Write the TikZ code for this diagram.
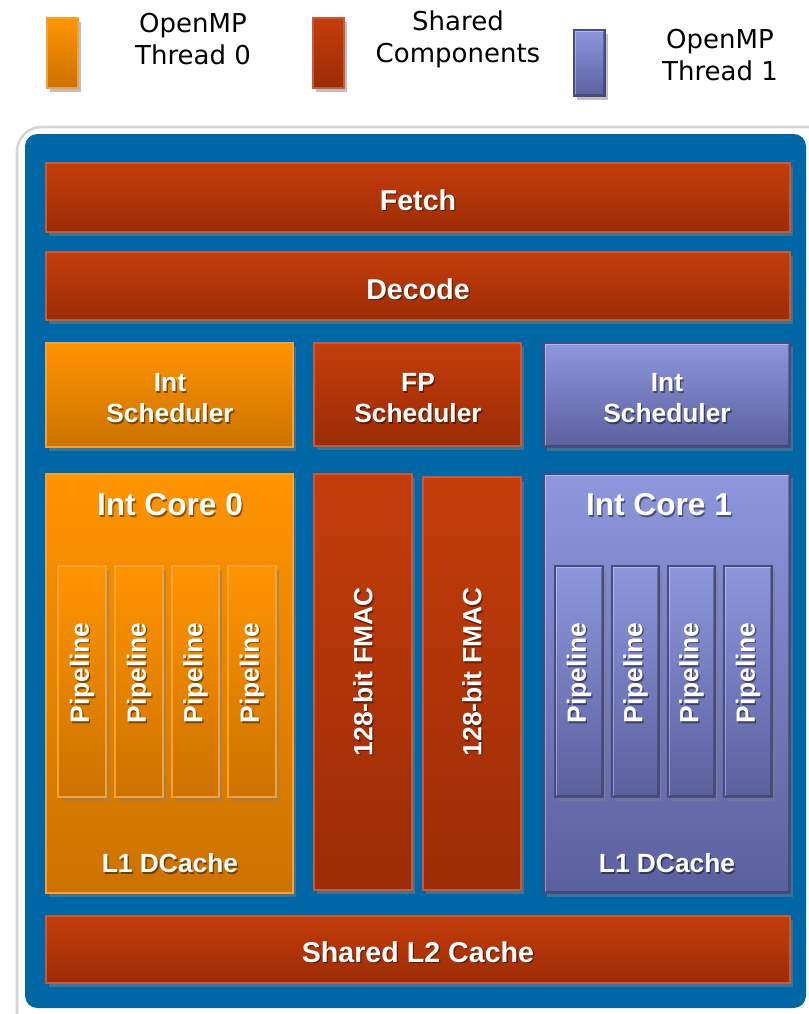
\documentclass[tikz,border=0pt]{standalone}
\usepackage{fontspec}
\setmainfont{Liberation Sans}
\newfontfamily\legendfont{DejaVu Sans}
\usetikzlibrary{shadows,calc}

\definecolor{panelblue}{HTML}{0067A7}
\definecolor{orgtop}{HTML}{FF9400}
\definecolor{orgbot}{HTML}{CC7200}
\definecolor{orgedge}{HTML}{F5A233}
\definecolor{redtop}{HTML}{C43D0B}
\definecolor{redbot}{HTML}{9C2C05}
\definecolor{rededge}{HTML}{C9593A}
\definecolor{purtop}{HTML}{8E97DD}
\definecolor{purbot}{HTML}{5B609D}
\definecolor{puredge}{HTML}{464B84}

\tikzset{
  x=0.02cm, y=-0.02cm,
  unit/.style={rectangle, inner sep=0pt, outer sep=0pt, line width=0.8pt,
    drop shadow={shadow xshift=1.5pt, shadow yshift=-2pt, opacity=0.5}},
  shared/.style={unit, draw=rededge, top color=redtop, bottom color=redbot},
  thread0/.style={unit, draw=orgedge, top color=orgtop, bottom color=orgbot},
  thread1/.style={unit, draw=puredge, top color=purtop, bottom color=purbot,
    path picture={
      \draw[white, opacity=0.35, line width=2.5pt]
        (path picture bounding box.south west) -- (path picture bounding box.north west)
        -- (path picture bounding box.north east);
      \draw[black, opacity=0.25, line width=2.5pt]
        (path picture bounding box.north east) -- (path picture bounding box.south east)
        -- (path picture bounding box.south west);}},
  lbl/.style={text=white, font=\bfseries\fontsize{15}{17.6}\selectfont,
    align=center, inner sep=0pt},
  biglbl/.style={font=\bfseries\fontsize{16.3}{19}\selectfont},
  titlelbl/.style={font=\bfseries\fontsize{18}{21}\selectfont},
  legendtxt/.style={font=\legendfont\fontsize{14.8}{18.2}\selectfont,
    align=center, inner sep=0pt, text=black},
}

% block from corner (x1,y1) to (x2,y2), in pixel units
\newcommand\blk[6]{%
  \pgfmathsetmacro\bw{((#5)-(#3))*0.02}%
  \pgfmathsetmacro\bh{((#6)-(#4))*0.02}%
  \node[#2, minimum width=\bw cm, minimum height=\bh cm] (#1)
    at ({((#3)+(#5))/2},{((#4)+(#6))/2}) {};}

% white label with a dark offset shadow
\newcommand\shtext[4]{%
  \node[lbl,#3,text=black,text opacity=0.45] at ($(#2)+(1.3,1.7)$) {#4};
  \node[lbl,#3] (#1) at (#2) {#4};}

\begin{document}
\begin{tikzpicture}
\useasboundingbox (0,0) rectangle (808,1014);

% ---- legend ----
\blk{lg0}{thread0}{47}{18}{78}{88}
\blk{lgs}{shared}{313}{18}{344}{88}
\blk{lg1}{thread1}{574}{30}{605}{96}
\node[legendtxt] (lt0) at (193,39) {OpenMP\\Thread 0};
\node[legendtxt] (lts) at (458,39) {Shared\\Components};
\node[legendtxt] (lt1) at (720,55) {OpenMP\\Thread 1};

% ---- module frame ----
\draw[draw=black!16, line width=1.5pt, fill=white, rounded corners=14]
  (17,127) rectangle (840,1040);
\fill[panelblue, rounded corners=7] (25,134) rectangle (806,1008);

% ---- front end ----
\blk{fetch}{shared}{46}{163}{790}{232}
\shtext{fetchL}{418,200}{biglbl}{Fetch}
\blk{decode}{shared}{46}{252}{790}{320}
\shtext{decodeL}{418,289}{biglbl}{Decode}

% ---- schedulers ----
\blk{sch0}{thread0}{46}{343}{293}{447}
\shtext{sch0L}{170,398}{}{Int\\Scheduler}
\blk{fpsch}{shared}{314}{343}{521}{446}
\shtext{fpschL}{418,398}{}{FP\\Scheduler}
\blk{sch1}{thread1}{544}{343}{790}{447}
\shtext{sch1L}{667,398}{}{Int\\Scheduler}

% ---- integer core 0 ----
\blk{core0}{thread0}{46}{474}{293}{893}
\shtext{core0T}{170,505}{titlelbl}{Int Core 0}
\shtext{core0C}{170,863}{}{L1 DCache}
\blk{p00}{thread0}{58}{566}{106}{797}
\blk{p01}{thread0}{115}{566}{163}{797}
\blk{p02}{thread0}{172}{566}{219}{797}
\blk{p03}{thread0}{228}{566}{276}{797}
\foreach \p in {p00,p01,p02,p03}
  \shtext{\p L}{\p.center |- 0,673}{rotate=90}{Pipeline};

% ---- floating point units ----
\blk{fmac0}{shared}{314}{474}{412}{890}
\shtext{fmac0L}{fmac0.center |- 0,672}{rotate=90}{128-bit FMAC}
\blk{fmac1}{shared}{423}{477}{521}{890}
\shtext{fmac1L}{fmac1.center |- 0,672}{rotate=90}{128-bit FMAC}

% ---- integer core 1 ----
\blk{core1}{thread1}{544}{474}{790}{893}
\shtext{core1T}{659,505}{titlelbl}{Int Core 1}
\shtext{core1C}{667,863}{}{L1 DCache}
\blk{p10}{thread1}{555}{566}{603}{797}
\blk{p11}{thread1}{612}{566}{659}{797}
\blk{p12}{thread1}{668}{566}{715}{797}
\blk{p13}{thread1}{724}{566}{772}{797}
\foreach \p in {p10,p11,p12,p13}
  \shtext{\p L}{\p.center |- 0,673}{rotate=90}{Pipeline};

% ---- shared L2 ----
\blk{l2}{shared}{46}{916}{790}{983}
\shtext{l2L}{418,952}{biglbl}{Shared L2 Cache}
\end{tikzpicture}
\end{document}
